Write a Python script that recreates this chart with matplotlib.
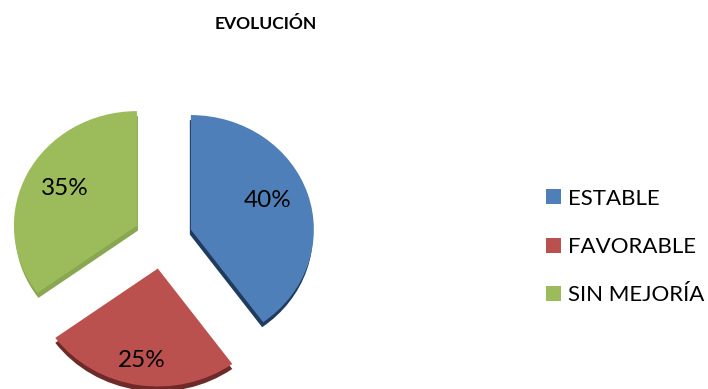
import matplotlib
matplotlib.use('Agg')
import matplotlib.pyplot as plt

categories = ['ESTABLE', 'FAVORABLE', 'SIN MEJORÍA']
values = [40, 25, 35]
colors = ['#4F7FB8', '#BB514E', '#9CBB5A']
side_colors = ['#1F3B5E', '#6E2A28', '#89A650']

W, H = 708, 389
# pie centre and radius in pixels (the pie is a bit squashed, like the 3D original)
cx, cy = 163, 238
rx, ry = 123, 114.5
depth = 5 / ry
explode = [0.238, 0.27, 0.238]
# the front slice looks a bit bigger in the original
slice_radius = [1, 1.03, 1]
label_dist = [0.69, 0.80, 0.68]
# small nudges of the percent labels, in pixels
label_nudge = [(-4, 5), (-1, -1), (2, 2)]
# sideways shift of the slice sides, so they only show on the cut edges
side_shift = [-1, 0, 1]

plt.rcParams['font.family'] = ['Lato', 'DejaVu Sans']

fig = plt.figure(figsize=(W / 100, H / 100), dpi=100)
ax = fig.add_axes([0, 0, 1, 1])

# side of the slices first, the top goes over it
sides, _ = ax.pie(values, explode=explode, colors=side_colors, startangle=90,
                  counterclock=False, center=(0, -depth))
for w, dx, r in zip(sides, side_shift, slice_radius):
    x0, y0 = w.center
    w.set_center((x0 + dx / rx, y0))
    w.set_radius(r)

wedges, texts, autotexts = ax.pie(values, explode=explode, colors=colors,
                                  startangle=90, counterclock=False,
                                  autopct='%d%%', pctdistance=0.7,
                                  textprops={'fontsize': 17.5, 'color': 'black'})

for w, t, d, (nx, ny), r in zip(wedges, autotexts, label_dist, label_nudge, slice_radius):
    x, y = t.get_position()
    x0, y0 = w.center
    t.set_position((x0 + (x - x0) * d / 0.7 + nx / rx,
                    y0 + (y - y0) * d / 0.7 + ny / ry))
    t.set_zorder(10)
    w.set_radius(r)

ax.set_aspect('auto')
ax.set_xlim(-cx / rx, (W - cx) / rx)
ax.set_ylim((cy - H) / ry, cy / ry)

fig.text(265.5 / W, 1 - 24 / H, 'EVOLUCIÓN', ha='center', va='center',
         fontsize=12.6, fontweight='bold')

ax.legend(wedges, categories, loc='center left',
          bbox_to_anchor=(546 / W, 1 - 247 / H), frameon=False,
          fontsize=16, handlelength=0.66, handleheight=0.66, handletextpad=0.33,
          labelspacing=1.27, borderpad=0, borderaxespad=0)

fig.savefig('out.png', dpi=100)
